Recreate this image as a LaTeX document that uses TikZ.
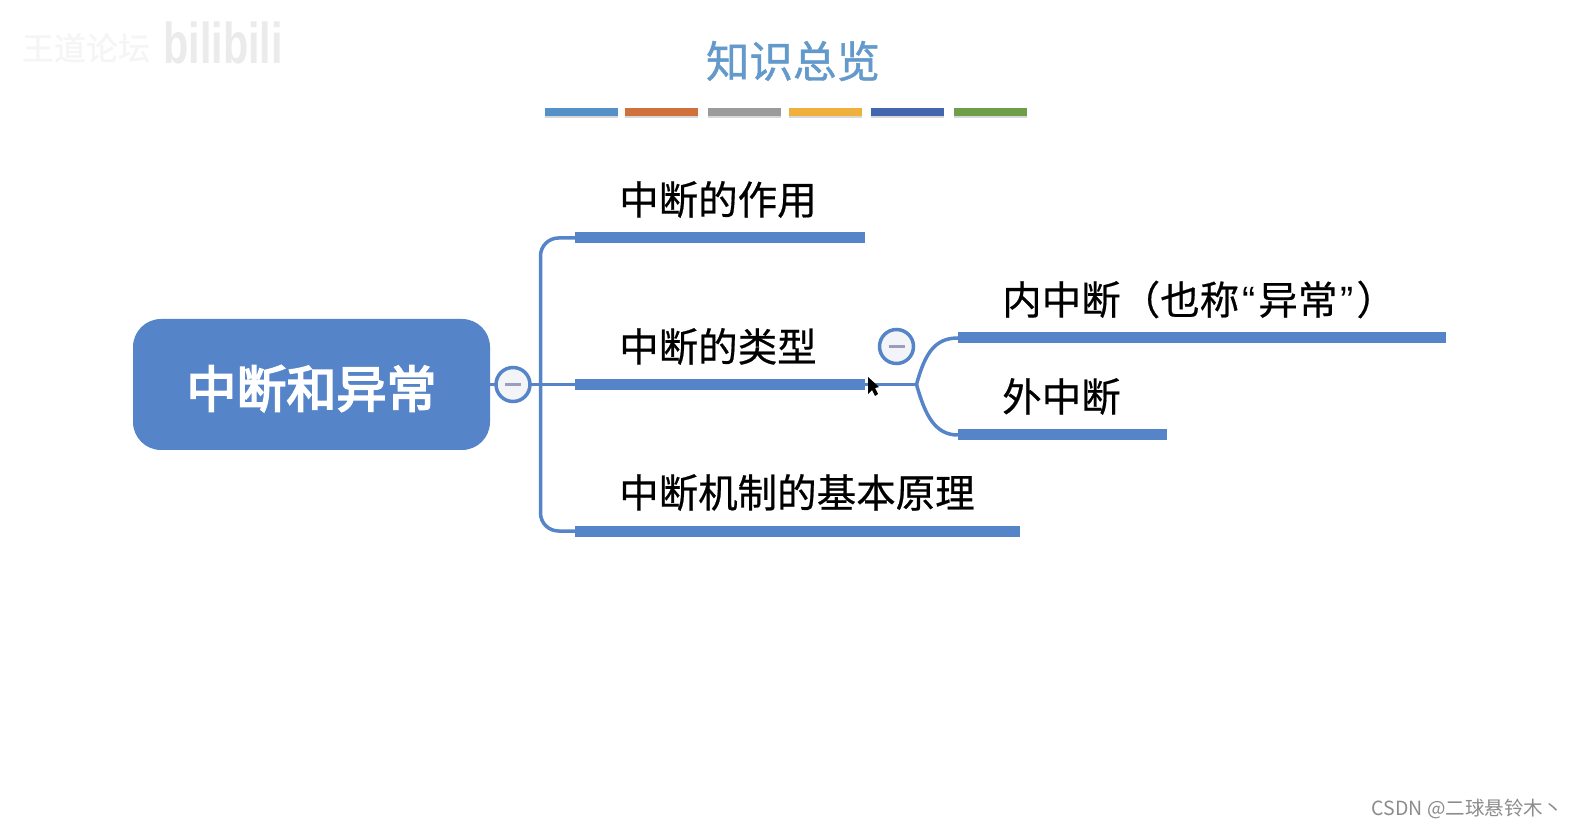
\documentclass[tikz,border=0pt]{standalone}
\usepackage{fontspec}
\setmainfont{Noto Sans CJK SC}
\newfontfamily\latinfont{Liberation Sans}
\newfontfamily\topicfont[FakeBold=0.5]{Noto Sans CJK SC}
\newfontfamily\titlefont[FakeBold=1]{Noto Sans CJK SC}
\newfontfamily\rootfont[FakeBold=3.5]{Noto Sans CJK SC}
\usepackage{xcolor}
\usetikzlibrary{shadows}
\definecolor{mapblue}{HTML}{5585C8}
\definecolor{titleblue}{HTML}{6399CB}
\definecolor{foldfill}{HTML}{F2F4F8}
\definecolor{foldminus}{HTML}{9A9CC0}
\tikzset{
	branch/.style = {draw = mapblue, line width = 3.5pt},
	topicbar/.style = {fill = mapblue, inner sep = 0, minimum height = 11pt},
	topic/.style = {anchor = west, inner sep = 0, font = \fontsize{39.5}{39.5}\topicfont},
	foldbtn/.style = {circle, draw = mapblue, line width = 3.5pt, fill = foldfill, inner sep = 0, minimum size = 34pt,
		path picture = {\draw [foldminus, line width = 3pt] (path picture bounding box.center) +(-8pt, 0) -- +(8pt, 0);}},
	swatch/.style = {inner sep = 0, minimum width = 73pt, minimum height = 8pt,
		drop shadow = {shadow xshift = 0pt, shadow yshift = -2.5pt, opacity = 0.3}},
}

\begin{document}
\begin{tikzpicture}[x = 1pt, y = 1pt]
	\useasboundingbox [fill = white] (0, 0) rectangle (1570, 828);

	% watermark
	\node [inner sep = 0, text = black!4, font = \fontsize{32}{32}\topicfont] (mark) at (86, 780) {王道论坛};
	\node [inner sep = 0, text = black!8, xscale = 0.9, yscale = 1.25, font = \fontsize{46}{46}\latinfont\bfseries] (site) at (223, 785) {bilibili};

	% title
	\node [inner sep = 0, text = titleblue, font = \fontsize{43.5}{43.5}\titlefont] (title) at (793, 767) {知识总览};
	\foreach \name/\x/\col in {a/581.5/5591C6, b/661.5/D0703B, c/744/9B9B9B, d/825.5/F0B03C, e/907/4267AE, f/990.5/6F9E4B} {
		\definecolor{swatchcol}{HTML}{\col}
		\node [swatch, fill = swatchcol] (swatch\name) at (\x, 716) {};
	}

	% map
	\node [fill = mapblue, rounded corners = 28pt, minimum width = 357pt, minimum height = 131pt, inner sep = 0,
		text = white, font = \fontsize{50}{50}\rootfont] (root) at (311.5, 443.5) {\raisebox{-23pt}[0pt][0pt]{中断和异常}};
	\node [topicbar, minimum width = 290pt] (useBar) at (720, 590) {};
	\node [topicbar, minimum width = 290pt] (typeBar) at (720, 443.5) {};
	\node [topicbar, minimum width = 445pt] (ruleBar) at (797.5, 297) {};
	\node [topicbar, minimum width = 488pt] (innerBar) at (1202, 490) {};
	\node [topicbar, minimum width = 209pt] (outerBar) at (1062.5, 393) {};

	\node [topic] (use) at (619, 628.5) {中断的作用};
	\node [topic] (type) at (619, 481.5) {中断的类型};
	\node [topic] (rule) at (619, 335.5) {中断机制的基本原理};
	\node [topic] (inner) at (1002, 528.5) {内中断（也称\kern3pt{\latinfont “}\kern3pt 异常\kern3pt{\latinfont ”}\kern3pt ）};
	\node [topic] (outer) at (1002, 431.5) {外中断};

	\coordinate (trunk) at (540.5, 443.5);
	\coordinate (fork) at (916.5, 443.5);
	\draw [branch] (root) -- (typeBar);
	\draw [branch, rounded corners = 18pt] (useBar.west) -| (trunk) |- (ruleBar.west);
	\draw [branch] (typeBar.east) -- (fork);
	\draw [branch] (fork) .. controls (925, 475) and (935, 490) .. (innerBar.west);
	\draw [branch] (fork) .. controls (925, 413) and (935, 393) .. (outerBar.west);

	\node [foldbtn] (rootFold) at (513, 443.5) {};
	\node [foldbtn] (typeFold) at (896.5, 481.5) {};

	% cursor
	\fill (868, 451) -- (868, 434) -- (872, 438) -- (875, 432) -- (878, 434) -- (875, 440) -- (879, 441) -- cycle;

	\node [inner sep = 0, anchor = east, text = black!45, font = \fontsize{19.5}{19.5}\selectfont] (credit) at (1563, 19) {CSDN @二球悬铃木丶};
\end{tikzpicture}
\end{document}
